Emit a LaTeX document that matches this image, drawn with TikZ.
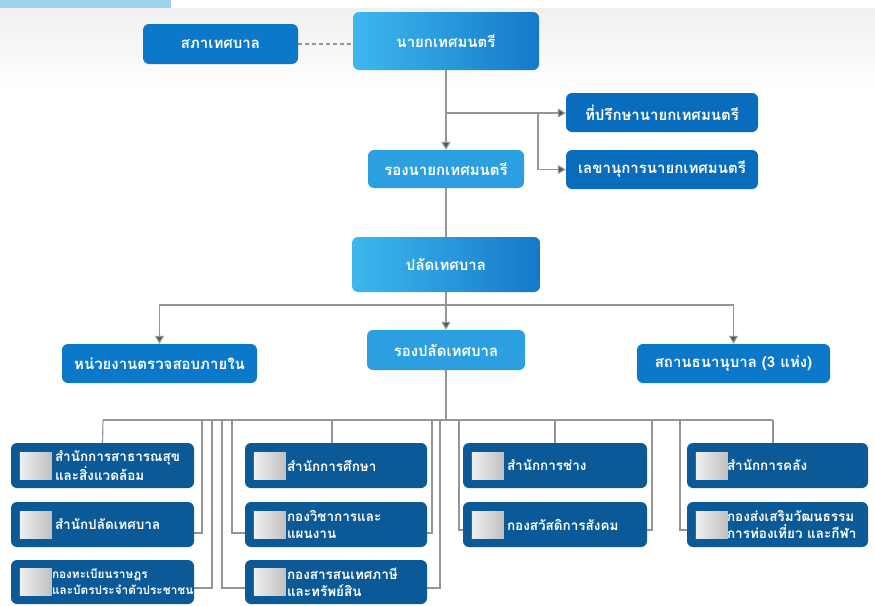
\documentclass[tikz,border=0pt]{standalone}
\usepackage{fontspec}
\newfontfamily\thaifont[Script=Thai]{Loma}
\usetikzlibrary{arrows.meta,backgrounds,calc}
\definecolor{midblue}{HTML}{0B78C9}
\definecolor{advblue}{HTML}{0A6CBD}
\definecolor{liteblue}{HTML}{2B9FE0}
\definecolor{gradL}{HTML}{3DB8EE}
\definecolor{gradR}{HTML}{1479C9}
\definecolor{navy}{HTML}{0B5A97}
\definecolor{linegray}{HTML}{959595}
\definecolor{tipgray}{HTML}{555555}
\definecolor{barblue}{HTML}{9FD5EC}
\tikzset{
  box/.style={rounded corners=6pt, inner sep=0pt, text=white, font=\thaifont\bfseries\fontsize{15}{18}\selectfont},
  midbox/.style={box, fill=midblue},
  advbox/.style={box, fill=advblue},
  litebox/.style={box, fill=liteblue},
  gradbox/.style={box, left color=gradL, right color=gradR},
  unitbox/.style={rounded corners=6pt, fill=navy, inner sep=0pt, minimum height=45pt},
  unittxt/.style={anchor=west, inner sep=0pt, text=white, align=left, font=\thaifont\bfseries\fontsize{13.5}{17}\selectfont},
  thumb/.style={inner sep=0pt, minimum width=32pt, minimum height=27pt, left color=gray!12, right color=gray!50},
  conn/.style={draw=linegray, line width=1.1pt},
  arr/.style={conn, -{Triangle[length=8pt,width=9pt,fill=tipgray]}},
  dashconn/.style={draw=linegray, line width=1.4pt, dash pattern=on 4pt off 3pt}
}
\begin{document}
\begin{tikzpicture}[x=1pt,y=-1pt]
\useasboundingbox (0,0) rectangle (875,605);

% top level
\node[midbox, minimum width=155pt, minimum height=40pt] (sapha) at (220.5,44) {สภาเทศบาล};
\node[gradbox, minimum width=186pt, minimum height=58pt] (nayok) at (446,41) {นายกเทศมนตรี};
\node[advbox, minimum width=192pt, minimum height=39pt] (advisor) at (662,112.5) {ที่ปรึกษานายกเทศมนตรี};
\node[advbox, minimum width=192pt, minimum height=39pt] (secretary) at (662,169.5) {เลขานุการนายกเทศมนตรี};
\node[litebox, minimum width=156pt, minimum height=38pt] (ronayok) at (446,169) {รองนายกเทศมนตรี};
\node[gradbox, minimum width=188pt, minimum height=55pt] (palad) at (446,264.5) {ปลัดเทศบาล};
\node[midbox, minimum width=195pt, minimum height=39pt] (audit) at (159.5,363.5) {หน่วยงานตรวจสอบภายใน};
\node[litebox, minimum width=158pt, minimum height=40pt] (ropalad) at (446,350) {รองปลัดเทศบาล};
\node[midbox, minimum width=193pt, minimum height=39pt] (pawn) at (733.5,363.5) {สถานธนานุบาล (3 แห่ง)};

% unit boxes
\node[unitbox, minimum width=183pt] (b1) at (102.5,465.5) {};
\node[unitbox, minimum width=183pt] (b2) at (102.5,524.5) {};
\node[unitbox, minimum width=183pt, minimum height=44pt] (b3) at (102.5,582) {};
\node[unitbox, minimum width=182pt] (b4) at (336,465.5) {};
\node[unitbox, minimum width=182pt] (b5) at (336,524.5) {};
\node[unitbox, minimum width=182pt, minimum height=44pt] (b6) at (336,582) {};
\node[unitbox, minimum width=184pt] (b7) at (555,465.5) {};
\node[unitbox, minimum width=184pt] (b8) at (555,524.5) {};
\node[unitbox, minimum width=181pt] (b9) at (777.5,465.5) {};
\node[unitbox, minimum width=181pt] (b10) at (777.5,524.5) {};

\foreach \b in {b1,b2,b3,b4,b5,b6,b7,b8,b9,b10}{
  \node[thumb] (th\b) at ([xshift=25pt]\b.west) {};
}
\node[unittxt] (t1) at ([xshift=44pt]b1.west) {สำนักการสาธารณสุข\\และสิ่งแวดล้อม};
\node[unittxt] (t2) at ([xshift=44pt]b2.west) {สำนักปลัดเทศบาล};
\node[unittxt, font=\thaifont\bfseries\fontsize{11.8}{16}\selectfont] (t3) at ([xshift=41pt]b3.west) {กองทะเบียนราษฎร\\และบัตรประจำตัวประชาชน};
\node[unittxt] (t4) at ([xshift=42pt]b4.west) {สำนักการศึกษา};
\node[unittxt] (t5) at ([xshift=42pt]b5.west) {กองวิชาการและ\\แผนงาน};
\node[unittxt] (t6) at ([xshift=42pt]b6.west) {กองสารสนเทศภาษี\\และทรัพย์สิน};
\node[unittxt] (t7) at ([xshift=44pt]b7.west) {สำนักการช่าง};
\node[unittxt] (t8) at ([xshift=44pt]b8.west) {กองสวัสดิการสังคม};
\node[unittxt] (t9) at ([xshift=40pt]b9.west) {สำนักการคลัง};
\node[unittxt] (t10) at ([xshift=40pt]b10.west) {กองส่งเสริมวัฒนธรรม\\การท่องเที่ยว และกีฬา};

% junction coordinates
\coordinate (jn) at (446,113);
\coordinate (jc) at (538,113);
\coordinate (jp) at (446,305);
\coordinate (jb) at (446,420);
\coordinate (busL) at (103,420);
\coordinate (busR) at (773,420);
\coordinate (j2) at (202,420);
\coordinate (j3) at (212,420);
\coordinate (j6a) at (222,420);
\coordinate (j5a) at (232,420);
\coordinate (j4) at (332,420);
\coordinate (j5b) at (432,420);
\coordinate (j6b) at (440,420);
\coordinate (j8a) at (459,420);
\coordinate (j7) at (555,420);
\coordinate (j8b) at (652,420);
\coordinate (j10) at (680,420);

\begin{pgfonlayer}{background}
\fill[white] (0,0) rectangle (875,605);
\shade[top color=black!6, bottom color=white] (0,8) rectangle (875,90);
\fill[barblue] (0,0) rectangle (171,8);
\draw[dashconn] (sapha.east) -- (sapha.east -| nayok.west);
\draw[arr] (nayok.south) -- (ronayok.north);
\draw[arr] (jn) -- (jn -| advisor.west);
\draw[arr] (jc) |- (secretary.west);
\draw[conn] (ronayok.south) -- (palad.north);
\draw[arr] (palad.south) -- (ropalad.north);
\draw[arr] (jp) -| (audit.north);
\draw[arr] (jp) -| (pawn.north);
\draw[conn] (ropalad.south) -- (jb);
\draw[conn] (busL) -- (busR);
\draw[conn] (busL) -- (b1.north);
\draw[conn] (j2) |- ([yshift=-8.5pt]b2.east);
\draw[conn] (j3) |- ([yshift=-6pt]b3.east);
\draw[conn] (j6a) |- ([yshift=-6pt]b6.west);
\draw[conn] (j5a) |- ([yshift=-8.5pt]b5.west);
\draw[conn] (j4) -- (j4 |- b4.north);
\draw[conn] (j5b) |- ([yshift=-8.5pt]b5.east);
\draw[conn] (j6b) |- ([yshift=-6pt]b6.east);
\draw[conn] (j8a) |- ([yshift=-5.5pt]b8.west);
\draw[conn] (j7) -- (b7.north);
\draw[conn] (j8b) |- ([yshift=-5.5pt]b8.east);
\draw[conn] (j10) |- ([yshift=-5.5pt]b10.west);
\draw[conn] (busR) -- (busR |- b9.north);
\end{pgfonlayer}
\end{tikzpicture}
\end{document}
